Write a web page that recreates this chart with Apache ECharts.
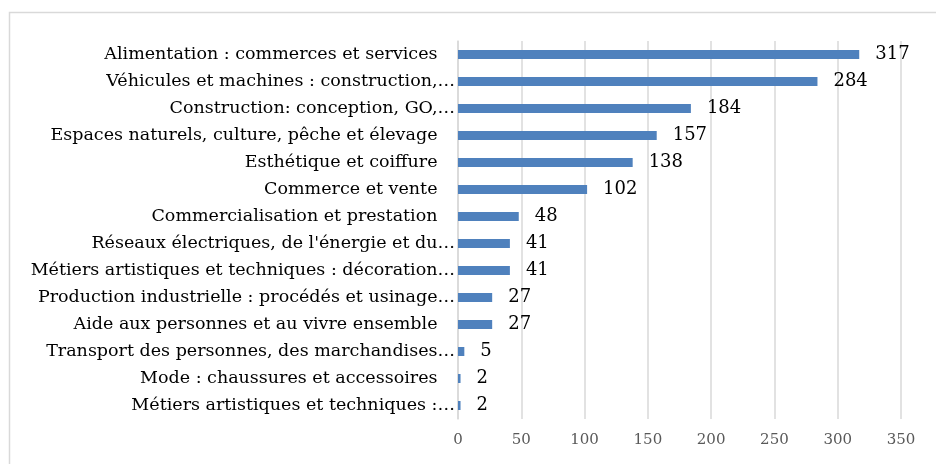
<!DOCTYPE html>
<html>
<head>
<meta charset="utf-8">
<script src="https://cdn.jsdelivr.net/npm/echarts@6/dist/echarts.min.js"></script>
<style>
  html, body { margin: 0; padding: 0; background: #fff; }
  #main { width: 936px; height: 464px; }
</style>
</head>
<body>
<div id="main"></div>
<script>
// catégories, de haut en bas
var categories = [
  'Alimentation : commerces et services',
  'Véhicules et machines : construction,…',
  'Construction: conception, GO,…',
  'Espaces naturels, culture, pêche et élevage',
  'Esthétique et coiffure',
  'Commerce et vente',
  'Commercialisation et prestation',
  "Réseaux électriques, de l'énergie et du…",
  'Métiers artistiques et techniques : décoration…',
  'Production industrielle : procédés et usinage…',
  'Aide aux personnes et au vivre ensemble',
  'Transport des personnes, des marchandises…',
  'Mode : chaussures et accessoires',
  'Métiers artistiques et techniques :…'
];
var values = [317, 284, 184, 157, 138, 102, 48, 41, 41, 27, 27, 5, 2, 2];
var ticks = [0, 50, 100, 150, 200, 250, 300, 350];

var chart = echarts.init(document.getElementById('main'));
var serif = '"DejaVu Serif", serif';

chart.setOption({
  backgroundColor: '#fff',
  animation: false,
  graphic: [{
    type: 'rect',
    shape: { x: 9.5, y: 12.5, width: 1000, height: 600 },
    style: { fill: 'none', stroke: '#d9d9d9', lineWidth: 1.5 },
    silent: true
  }],
  grid: { left: 458, right: 35, top: 41, bottom: 45, containLabel: false },
  xAxis: {
    type: 'value',
    min: ticks[0],
    max: ticks[ticks.length - 1],
    interval: 50,
    axisLine: { show: false },
    axisTick: { show: false },
    splitLine: { show: true, lineStyle: { color: '#d9d9d9', width: 1.5 } },
    axisLabel: { color: '#595959', fontSize: 15, fontFamily: serif, margin: 14 }
  },
  yAxis: {
    type: 'category',
    data: categories.slice().reverse(),
    axisLine: { show: true, lineStyle: { color: '#d9d9d9', width: 1.5 } },
    axisTick: { show: false },
    axisLabel: {
      color: '#000',
      fontSize: 17.5,
      fontFamily: serif,
      margin: 3,
      formatter: function (v) {
        // les libellés complets gardent un petit espace avant l'axe
        return v.slice(-1) === '…' ? v : v + '\u2003';
      }
    }
  },
  series: [{
    type: 'bar',
    data: values.slice().reverse(),
    barWidth: 9,
    itemStyle: { color: '#4f81bd' },
    label: {
      show: true,
      position: 'right',
      distance: 16,
      color: '#000',
      fontSize: 18,
      fontFamily: serif
    }
  }]
});
</script>
</body>
</html>
